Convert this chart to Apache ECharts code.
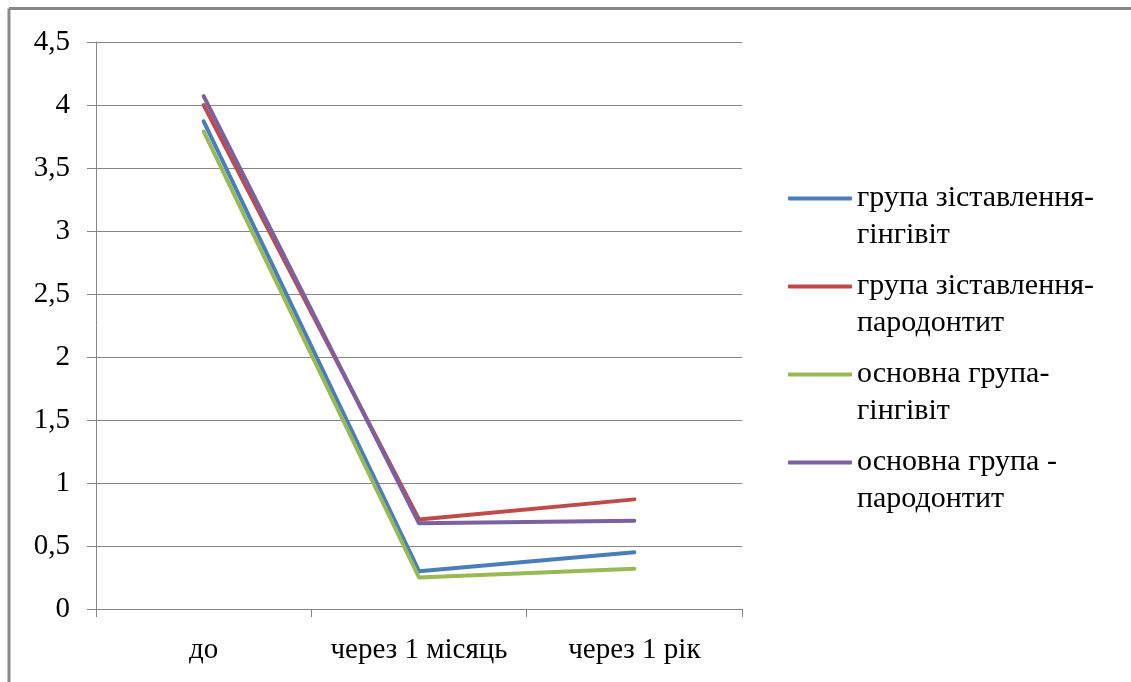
<!DOCTYPE html>
<html>
<head>
<meta charset="utf-8">
<script src="https://cdn.jsdelivr.net/npm/echarts@6/dist/echarts.min.js"></script>
<style>
html,body{margin:0;padding:0;background:#fff;}
#c{width:1131px;height:682px;}
</style>
</head>
<body>
<div id="c"></div>
<script>
var categories = ['до', 'через 1 місяць', 'через 1 рік'];
var seriesNames = ['група зіставлення-гінгівіт', 'група зіставлення-пародонтит', 'основна група-гінгівіт', 'основна група - пародонтит'];
var blueValues = [3.87, 0.30, 0.45];
var redValues = [4.00, 0.71, 0.87];
var greenValues = [3.79, 0.25, 0.32];
var purpleValues = [4.07, 0.68, 0.70];
var colors = ['#4A7EBB', '#BE4B48', '#98B954', '#7D60A0'];
var allValues = [blueValues, redValues, greenValues, purpleValues];

var FONT = '"Liberation Serif", "Times New Roman", serif';
var chart = echarts.init(document.getElementById('c'), null, {renderer: 'canvas'});
var series = seriesNames.map(function (n, i) {
  return {
    name: n,
    type: 'line',
    data: allValues[i],
    symbol: 'none',
    color: colors[i],
    lineStyle: {width: 4, color: colors[i], cap: 'round', join: 'round'},
    emphasis: {disabled: true}
  };
});
chart.setOption({
  animation: false,
  backgroundColor: '#fff',
  grid: {left: 96, right: 389, top: 42, bottom: 73},
  xAxis: {
    type: 'category',
    data: categories,
    boundaryGap: true,
    axisLine: {lineStyle: {color: '#868686', width: 1}},
    axisTick: {show: true, interval: 0, length: 8, lineStyle: {color: '#868686'}},
    axisLabel: {interval: 0, hideOverlap: false, margin: 27, fontFamily: FONT, fontSize: 29, color: '#000'}
  },
  yAxis: {
    type: 'value',
    min: 0, max: 4.5, interval: 0.5,
    axisLine: {show: true, lineStyle: {color: '#868686', width: 1}},
    axisTick: {show: true, length: 9, lineStyle: {color: '#868686'}},
    splitLine: {lineStyle: {color: '#868686', width: 1}},
    axisLabel: {
      margin: 26, fontFamily: FONT, fontSize: 29, color: '#000',
      formatter: function (v) { return String(v).replace('.', ','); }
    }
  },
  legend: {
    orient: 'vertical',
    left: 788,
    top: 143,
    padding: 0,
    itemWidth: 64,
    itemHeight: 4,
    itemGap: -23,
    icon: 'roundRect',
    data: seriesNames,
    formatter: function (n) { return '\n' + n.replace(/-\s*/, '-\n'); },
    textStyle: {fontFamily: FONT, fontSize: 30, color: '#000', lineHeight: 37},
    selectedMode: false
  },
  graphic: [
    {type: 'line', shape: {x1: 9, y1: 8.5, x2: 1131, y2: 8.5}, style: {stroke: '#888', lineWidth: 3}, silent: true},
    {type: 'line', shape: {x1: 9, y1: 8.5, x2: 9, y2: 682}, style: {stroke: '#888', lineWidth: 3}, silent: true}
  ],
  series: series
});
</script>
</body>
</html>
